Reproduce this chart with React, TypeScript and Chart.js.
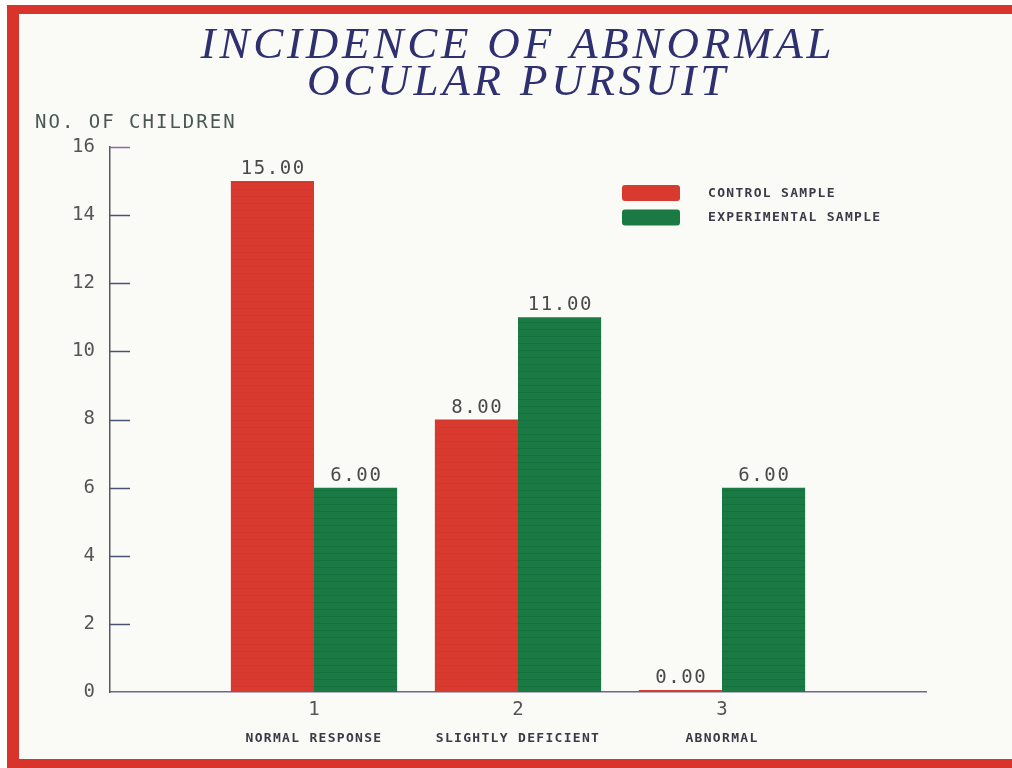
import React, { useEffect, useRef } from 'react';
import { Chart, registerables } from 'chart.js';

Chart.register(...registerables);

// ---- data ----
const categories = ['1', '2', '3'];
const categoryNames = ['NORMAL RESPONSE', 'SLIGHTLY DEFICIENT', 'ABNORMAL'];
const seriesNames = ['CONTROL SAMPLE', 'EXPERIMENTAL SAMPLE'];
const controlValues = [15, 8, 0];
const experimentalValues = [6, 11, 6];
const yTicks = [0, 2, 4, 6, 8, 10, 12, 14, 16];
const titleLines = ['INCIDENCE OF ABNORMAL', 'OCULAR PURSUIT'];
const yAxisTitle = 'NO. OF CHILDREN';

// ---- styles ----
const RED = '#d93a2f';
const GREEN = '#1b7a44';
const seriesColors = [RED, GREEN];
const MONO = '"DejaVu Sans Mono"';

function stripes(base: string, line: string): CanvasPattern | string {
  const c = document.createElement('canvas');
  c.width = 8;
  c.height = 7;
  const g = c.getContext('2d');
  if (!g) return base;
  g.fillStyle = base;
  g.fillRect(0, 0, 8, 7);
  g.fillStyle = line;
  g.fillRect(0, 0, 8, 1);
  return g.createPattern(c, 'repeat') || base;
}

const decorPlugin = {
  id: 'decor',
  beforeDatasetsDraw(chart: any) {
    const ctx = chart.ctx;
    const y = chart.scales.y;
    const left = chart.chartArea.left;
    ctx.save();
    ctx.lineWidth = 1.5;
    yTicks.forEach((v, i) => {
      if (v === yTicks[0]) return;
      const py = Math.round(y.getPixelForValue(v)) + 0.5;
      ctx.strokeStyle = i === yTicks.length - 1 ? '#8a6aa6' : '#4c5272';
      ctx.beginPath();
      ctx.moveTo(left, py);
      ctx.lineTo(left + 20, py);
      ctx.stroke();
    });
    ctx.restore();
  },
  afterDatasetsDraw(chart: any) {
    const ctx = chart.ctx;
    ctx.save();
    ctx.font = `19px ${MONO}`;
    (ctx as any).letterSpacing = '1.6px';
    ctx.fillStyle = '#4a4a4a';
    ctx.textAlign = 'center';
    ctx.textBaseline = 'alphabetic';
    chart.data.datasets.forEach((ds: any, di: number) => {
      const meta = chart.getDatasetMeta(di);
      ds.data.forEach((v: number | null, i: number) => {
        if (v === null || v === undefined) return;
        const el = meta.data[i];
        ctx.fillText(v.toFixed(2), el.x + 0.8, el.y - 7);
      });
    });
    ctx.restore();
  },
  afterDraw(chart: any) {
    const ctx = chart.ctx;
    const x = chart.scales.x;
    ctx.save();
    // title
    ctx.font = 'italic 45px "Liberation Serif"';
    (ctx as any).letterSpacing = '3.8px';
    ctx.fillStyle = '#2f3070';
    ctx.textAlign = 'center';
    ctx.textBaseline = 'alphabetic';
    ctx.fillText(titleLines[0], 518, 58);
    ctx.fillText(titleLines[1], 518, 95);

    // y axis title
    ctx.font = `19px ${MONO}`;
    (ctx as any).letterSpacing = '2px';
    ctx.fillStyle = '#4b5852';
    ctx.textAlign = 'left';
    ctx.fillText(yAxisTitle, 35, 128);

    // category names
    ctx.font = `bold 13px ${MONO}`;
    (ctx as any).letterSpacing = '1.3px';
    ctx.fillStyle = '#3a3a48';
    ctx.textAlign = 'center';
    ctx.textBaseline = 'middle';
    categoryNames.forEach((name, i) => {
      ctx.fillText(name, x.getPixelForValue(i + 1), 739);
    });

    // legend
    ctx.textAlign = 'left';
    chart.data.datasets.forEach((ds: any, i: number) => {
      const top = 185 + i * 24.5;
      ctx.fillStyle = seriesColors[i];
      ctx.beginPath();
      (ctx as any).roundRect(622, top, 58, 16, 3);
      ctx.fill();
      ctx.fillStyle = '#3a3a48';
      ctx.fillText(ds.label, 708, top + 8.5);
    });
    ctx.restore();
  },
};

export default function App() {
  const ref = useRef<HTMLCanvasElement | null>(null);

  useEffect(() => {
    if (!ref.current) return;
    const labels = ['', ...categories, ''];
    const pad = (arr: number[]) => [null, ...arr, null];
    const chart = new Chart(ref.current, {
      type: 'bar',
      data: {
        labels,
        datasets: [
          {
            label: seriesNames[0],
            data: pad(controlValues) as any,
            backgroundColor: stripes(RED, '#d5362c') as any,
            borderWidth: 0,
            minBarLength: 2,
            categoryPercentage: 0.815,
            barPercentage: 1,
          },
          {
            label: seriesNames[1],
            data: pad(experimentalValues) as any,
            backgroundColor: stripes(GREEN, '#14703d') as any,
            borderWidth: 0,
            categoryPercentage: 0.815,
            barPercentage: 1,
          },
        ],
      },
      options: {
        responsive: false,
        animation: false,
        devicePixelRatio: 1,
        layout: { padding: { top: 147, right: 86, bottom: 0, left: 0 } },
        plugins: {
          legend: { display: false },
          title: { display: false },
          tooltip: { enabled: false },
        },
        scales: {
          x: {
            type: 'category',
            offset: false,
            grid: { display: false, drawTicks: false },
            border: { display: true, color: '#6c6888', width: 1.5 },
            ticks: {
              autoSkip: false,
              maxRotation: 0,
              padding: 7,
              color: '#555',
              font: { family: 'DejaVu Sans Mono', size: 19 },
            },
            afterFit: (s: any) => {
              s.height = 76;
            },
          },
          y: {
            min: yTicks[0],
            max: yTicks[yTicks.length - 1],
            grid: { display: false, drawTicks: false },
            border: { display: true, color: '#555b5a', width: 1.5 },
            ticks: {
              stepSize: yTicks[1] - yTicks[0],
              padding: 15,
              color: '#555',
              font: { family: 'DejaVu Sans Mono', size: 19 },
            },
            afterFit: (s: any) => {
              s.width = 110;
            },
          },
        },
      },
      plugins: [decorPlugin],
    });
    return () => chart.destroy();
  }, []);

  return (
    <div
      style={{
        position: 'fixed',
        left: 0,
        top: 0,
        width: 1012,
        height: 768,
        background: '#fdfdfb',
        overflow: 'hidden',
      }}
    >
      <div
        style={{
          position: 'absolute',
          left: 7,
          top: 5,
          width: 1020,
          height: 763,
          boxSizing: 'border-box',
          borderLeft: '12px solid #d8342b',
          borderTop: '9px solid #d8342b',
          borderBottom: '9px solid #d8342b',
          background: '#fafaf7',
        }}
      />
      <canvas
        ref={ref}
        width={1012}
        height={768}
        style={{ position: 'absolute', left: 0, top: 0, width: 1012, height: 768 }}
      />
    </div>
  );
}
